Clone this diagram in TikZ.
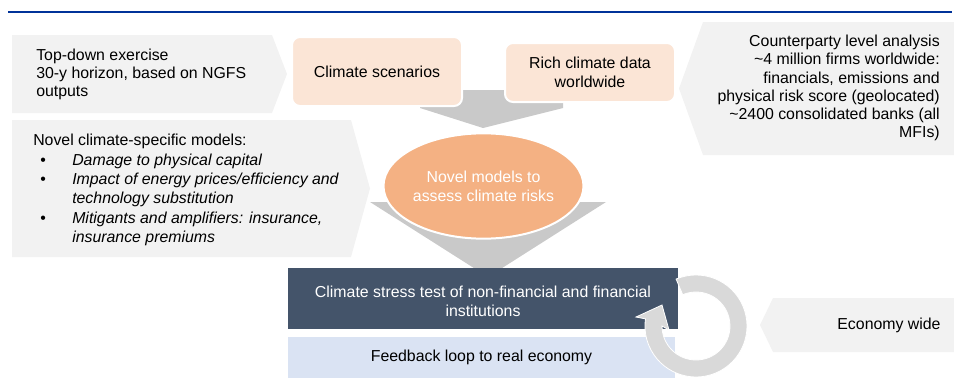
\documentclass[tikz,border=0pt]{standalone}
\usepackage{fontspec}
\setmainfont{Liberation Sans}
\usetikzlibrary{shapes.geometric,calc}
\definecolor{topblue}{HTML}{003299}
\definecolor{chevfill}{HTML}{F2F2F2}
\definecolor{peach}{HTML}{FBE5D6}
\definecolor{orangefill}{HTML}{F4B183}
\definecolor{darkbox}{HTML}{44546A}
\definecolor{lightblue}{HTML}{DAE3F3}
\definecolor{funnel}{HTML}{C9C9C9}
\definecolor{ringgray}{HTML}{D9D9D9}
\tikzset{
  txt/.style={font=\fontsize{11.9}{14.2}\selectfont, inner sep=0pt},
  peachbox/.style={fill=peach, draw=white, line width=1.5pt, rounded corners=6pt},
  chev/.style={fill=chevfill},
  funnelshape/.style={fill=funnel},
}
\begin{document}
\begin{tikzpicture}[x=0.75pt,y=-0.75pt]
\useasboundingbox (0,0) rectangle (954,382);
% top line
\draw[topblue, line width=1.5pt] (8,12) -- (952,12);

% left chevrons
\fill[chev] (12,35) -- (272,35) -- (287,74) -- (272,113) -- (12,113) -- cycle;
\node[txt, font=\fontsize{11.9}{13.5}\selectfont, anchor=west, align=left] (topdown) at (36,74)
  {Top-down exercise\\30-y horizon, based on NGFS\\outputs};

\fill[chev] (12,120) -- (351,120) -- (370,188.5) -- (351,257) -- (12,257) -- cycle;
\node[txt, font=\fontsize{11.9}{14.55}\selectfont, anchor=west, align=left] (novel) at (33,190)
  {Novel climate-specific models:\\
   \hspace*{5.25pt}\makebox[24pt][l]{\textbullet}\textit{Damage to physical capital}\\
   \hspace*{5.25pt}\makebox[24pt][l]{\textbullet}\textit{Impact of energy prices/efficiency and}\\
   \hspace*{29.25pt}\textit{technology substitution}\\
   \hspace*{5.25pt}\makebox[24pt][l]{\textbullet}\textit{Mitigants and amplifiers: insurance,}\\
   \hspace*{29.25pt}\textit{insurance premiums}};

% right chevrons
\fill[chev] (703,22) -- (954,22) -- (954,155) -- (703,155) -- (679,88.5) -- cycle;
\node[txt, font=\fontsize{11.9}{13.65}\selectfont, anchor=east, align=right] (counter) at (940,88)
  {Counterparty level analysis\\\textasciitilde4 million firms worldwide:\\financials, emissions and\\physical risk score (geolocated)\\\textasciitilde2400 consolidated banks (all\\MFIs)};

\fill[chev] (773,298) -- (954,298) -- (954,352) -- (773,352) -- (760,325) -- cycle;
\node[txt] (econ) at (889,325) {Economy wide};

% funnel arrows
\fill[funnelshape] (420,90) -- (563,90) -- (563,108) -- (483,128) -- (420,108) -- cycle;
\fill[funnelshape] (370,202) -- (606,202) -- (488,277) -- cycle;

% peach boxes
\path[peachbox] (292,37) rectangle (462,106);
\node[txt] (scen) at (377,71.5) {Climate scenarios};
\path[peachbox] (505,43) rectangle (675,102);
\node[txt, align=center] (data) at (590,72.5) {Rich climate data\\worldwide};

% ellipse
\node[txt, ellipse, fill=orangefill, draw=white, line width=1.5pt,
      minimum width=150pt, minimum height=79pt, text=white, align=center]
      (models) at (483.5,186) {Novel models to\\assess climate risks};

% bottom boxes
\fill[darkbox] (288,268) rectangle (678,329);
\node[txt, text=white, align=center] (stress) at (483,301)
  {Climate stress test of non-financial and financial\\institutions};
\fill[lightblue] (288,337) rectangle (675,378);
\node[txt] (feedback) at (481.5,357.5) {Feedback loop to real economy};

% circular arrow
\coordinate (rc) at (696,326);
\filldraw[fill=ringgray, draw=white, line width=0.6pt]
  ($(rc)+(-113:51)$) arc[start angle=-113, end angle=188, radius=51]
  -- (636,317) -- (662,305) -- (669,330)
  -- ($(rc)+(180:34)$) arc[start angle=180, end angle=-113, radius=34] -- cycle;
\end{tikzpicture}
\end{document}
